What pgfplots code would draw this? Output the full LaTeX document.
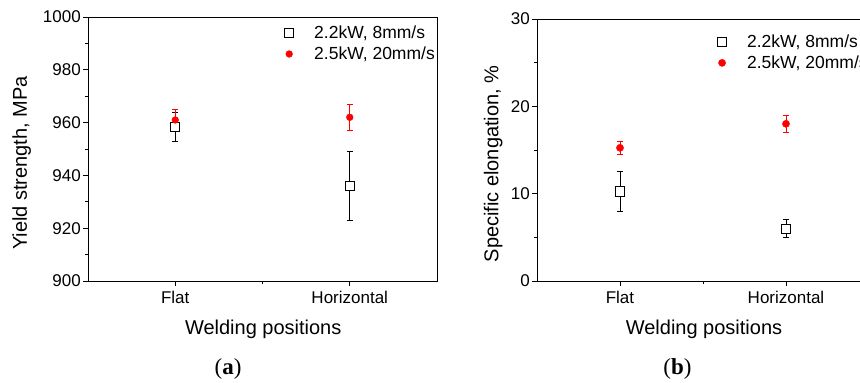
\documentclass[border=0pt]{standalone}
\usepackage{pgfplots}
\pgfplotsset{compat=1.18}
\usepackage{fontspec}
\setmainfont{Liberation Sans}
\newfontfamily\capfont{Liberation Serif}

\pgfplotsset{
 myaxis/.style={
  scale only axis,
  xmin=0.5, xmax=2.5, xtick={1,2}, xticklabels={Flat,Horizontal}, minor x tick num=1,
  tick align=outside, xtick pos=left, ytick pos=left,
  major tick length=5pt, minor tick length=3pt,
  every tick/.style={black, line width=0.8pt},
  axis line style={line width=0.8pt},
  ticklabel style={font=\fontsize{17}{20}\selectfont},
  yticklabel style={inner sep=2pt},
  xticklabel style={inner sep=2pt, yshift=-3pt},
  /pgf/number format/assume math mode=true,
  /pgf/number format/1000 sep={},
  label style={font=\fontsize{20}{24}\selectfont},
  legend style={draw=none, fill=none, inner sep=0pt, font=\fontsize{17.5}{21}\selectfont, cells={anchor=west}, row sep=3pt},
  legend image code/.code={\path[draw=none, fill=none] (0pt,0pt) -- (23pt,0pt); \draw[mark repeat=2,mark phase=2,##1] plot coordinates {(0pt,0pt)(0pt,0pt)(1pt,0pt)};},
  legend cell align=left,
 },
 sq/.style={only marks, mark=square*, mark size=4.5pt, mark options={fill=white, draw=black, line width=0.8pt},
   /pgfplots/error bars/y dir=both, /pgfplots/error bars/y explicit,
   /pgfplots/error bars/error bar style={black, line width=0.8pt},
   /pgfplots/error bars/error mark options={rotate=90, mark size=3pt, line width=0.8pt, black}},
 rd/.style={only marks, mark=*, mark size=3.4pt, mark options={fill=red, draw=red},
   /pgfplots/error bars/y dir=both, /pgfplots/error bars/y explicit,
   /pgfplots/error bars/error bar style={red, line width=0.8pt},
   /pgfplots/error bars/error mark options={rotate=90, mark size=3pt, line width=0.8pt, red}},
}

\begin{document}
\begin{tikzpicture}
\begin{axis}[myaxis, at={(88pt,102pt)}, anchor=south west, width=349pt, height=264pt,
  ymin=900, ymax=1000, ytick={900,920,...,1000}, minor y tick num=1,
  xlabel={Welding positions}, ylabel={Yield strength, MPa},
  xlabel style={at={(axis description cs:0.502,-0.182)}, anchor=center},
  ylabel style={at={(axis description cs:-0.19,0.447)}, anchor=center},
  legend style={at={(axis description cs:0.563,0.9)}, anchor=west}]
\addplot[sq] table[x=x, y=y, y error=e] {
x y e
1 958.5 5.5
2 936 13
};
\addlegendentry{2.2kW, 8mm/s}
\addplot[rd] table[x=x, y=y, y error=e] {
x y e
1 961 4
2 962 5
};
\addlegendentry{2.5kW, 20mm/s}
\end{axis}

\begin{axis}[myaxis, at={(537pt,102pt)}, anchor=south west, width=332pt, height=262pt,
  ymin=0, ymax=30, ytick={0,10,20,30}, minor y tick num=1,
  xlabel={Welding positions}, ylabel={Specific elongation, \%},
  xlabel style={at={(axis description cs:0.503,-0.183)}, anchor=center},
  ylabel style={at={(axis description cs:-0.132,0.447)}, anchor=center},
  legend style={at={(axis description cs:0.543,0.873)}, anchor=west}]
\addplot[sq, mark size=4.6pt] table[x=x, y=y, y error=e] {
x y e
1 10.25 2.25
2 6 1
};
\addlegendentry{2.2kW, 8mm/s}
\addplot[rd, mark size=3.6pt] table[x=x, y=y, y error=e] {
x y e
1 15.25 0.75
2 18 1
};
\addlegendentry{2.5kW, 20mm/s}
\end{axis}

\node[font=\capfont\fontsize{23}{27}\selectfont] at (228pt,14pt) {(\textbf{a})};
\node[font=\capfont\fontsize{23}{27}\selectfont] at (677.5pt,14pt) {(\textbf{b})};

\pgfresetboundingbox
\useasboundingbox (0pt,0pt) rectangle (860pt,383pt);
\end{tikzpicture}
\end{document}
